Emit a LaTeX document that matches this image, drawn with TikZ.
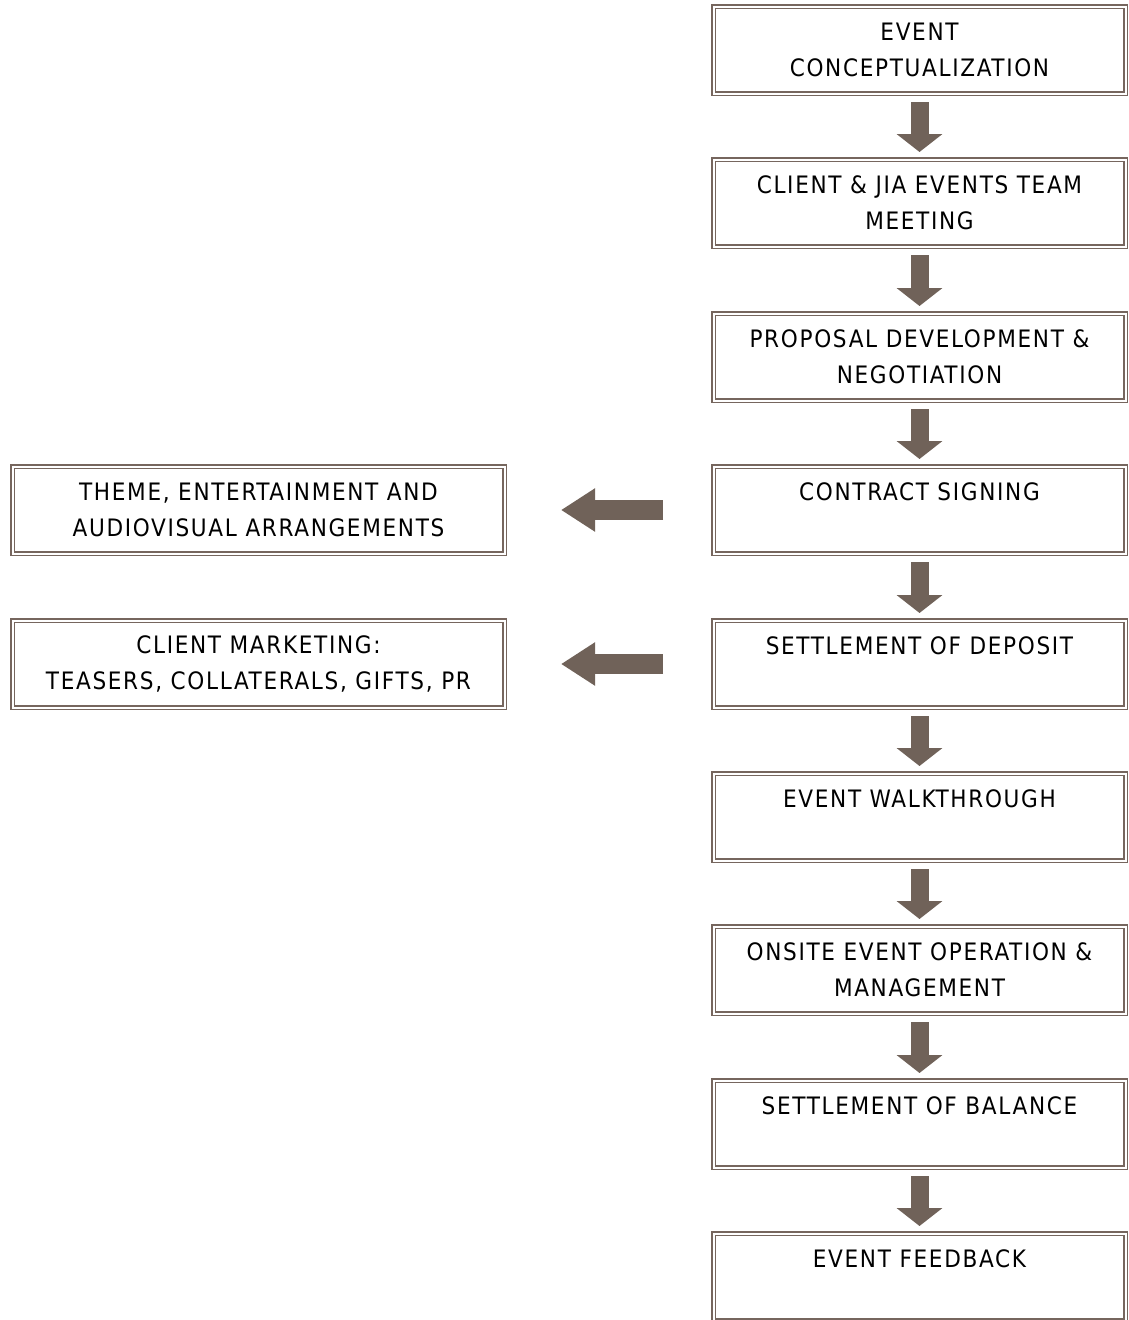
\documentclass[tikz,border=0pt]{standalone}
\usepackage{fontspec}
\setmainfont[LetterSpace=7]{DejaVu Sans Condensed}
\usetikzlibrary{arrows.meta}

\definecolor{boxbrown}{RGB}{118,102,94}
\definecolor{arrowbrown}{RGB}{112,98,89}

\tikzset{
  stepbox/.style={draw=boxbrown, line width=1.4pt, double=white, double distance=2pt,
    minimum height=87pt, inner sep=0pt, outer sep=0pt, align=center,
    font=\fontsize{24}{36}\selectfont},
  mainbox/.style={stepbox, minimum width=412pt},
  sidebox/.style={stepbox, minimum width=492pt},
  downarrow/.style={arrowbrown, line width=18pt, -{Triangle[width=45pt,length=18pt]},
    shorten <=8.5pt, shorten >=7.5pt},
  leftarrow/.style={arrowbrown, line width=20pt, -{Triangle[width=41pt,length=34pt]},
    shorten <=50.5pt, shorten >=56.5pt}
}

\begin{document}
\begin{tikzpicture}[x=1pt,y=-1pt]
  \useasboundingbox (0,0) rectangle (1128,1320);

  % main steps
  \node[mainbox] (concept)   at (919.5,50)   {EVENT\\CONCEPTUALIZATION};
  \node[mainbox] (meeting)   at (919.5,203)  {CLIENT \& JIA EVENTS TEAM\\MEETING};
  \node[mainbox] (proposal)  at (919.5,357)  {PROPOSAL DEVELOPMENT \&\\NEGOTIATION};
  \node[mainbox] (contract)  at (919.5,510)  {CONTRACT SIGNING\\\phantom{X}};
  \node[mainbox] (deposit)   at (919.5,664)  {SETTLEMENT OF DEPOSIT\\\phantom{X}};
  \node[mainbox] (walk)      at (919.5,817)  {EVENT WALKTHROUGH\\\phantom{X}};
  \node[mainbox] (onsite)    at (919.5,970)  {ONSITE EVENT OPERATION \&\\MANAGEMENT};
  \node[mainbox] (balance)   at (919.5,1124) {SETTLEMENT OF BALANCE\\\phantom{X}};
  \node[mainbox] (feedback)  at (919.5,1277) {EVENT FEEDBACK\\\phantom{X}};

  % side steps
  \node[sidebox] (theme)     at (258.5,510)  {THEME, ENTERTAINMENT AND\\AUDIOVISUAL ARRANGEMENTS};
  \node[sidebox] (marketing) at (258.5,664)  {CLIENT MARKETING:\\TEASERS, COLLATERALS, GIFTS, PR};

  \draw[downarrow] (concept.south)  -- (meeting.north);
  \draw[downarrow] (meeting.south)  -- (proposal.north);
  \draw[downarrow] (proposal.south) -- (contract.north);
  \draw[downarrow] (contract.south) -- (deposit.north);
  \draw[downarrow] (deposit.south)  -- (walk.north);
  \draw[downarrow] (walk.south)     -- (onsite.north);
  \draw[downarrow] (onsite.south)   -- (balance.north);
  \draw[downarrow] (balance.south)  -- (feedback.north);

  \draw[leftarrow] (contract.west) -- (theme.east);
  \draw[leftarrow] (deposit.west)  -- (marketing.east);
\end{tikzpicture}
\end{document}
